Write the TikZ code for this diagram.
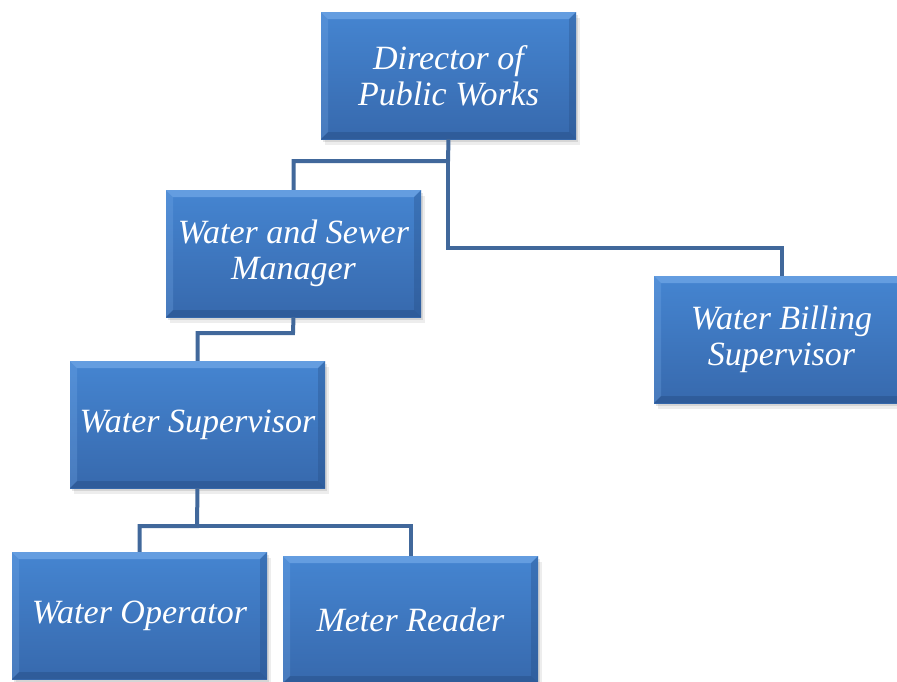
\documentclass[tikz,border=0pt]{standalone}
\usepackage{fontspec}
\setmainfont{Liberation Serif}
\usetikzlibrary{calc}
\definecolor{boxtop}{HTML}{4585D1}
\definecolor{boxbot}{HTML}{3769AD}
\definecolor{bevlight}{HTML}{7FB2EE}
\definecolor{bevdark}{HTML}{23497E}
\definecolor{linkcol}{HTML}{41689B}
\tikzset{
  orgbox/.style={
    rectangle, minimum width=255pt, minimum height=127pt, inner sep=0pt,
    text=white, align=center,
    font=\fontsize{34}{36}\selectfont\itshape,
    top color=boxtop, bottom color=boxbot,
    preaction={fill=black, fill opacity=0.07, transform canvas={shift={(4pt,-6pt)}}},
    preaction={fill=black, fill opacity=0.10, transform canvas={shift={(2pt,-3pt)}}},
    path picture={
      \coordinate (nw) at (path picture bounding box.north west);
      \coordinate (se) at (path picture bounding box.south east);
      \coordinate (ne) at (path picture bounding box.north east);
      \coordinate (sw) at (path picture bounding box.south west);
      \fill[bevlight, opacity=0.55] (nw) -- (ne) -- ($(ne)+(-7pt,-7pt)$) -- ($(nw)+(7pt,-7pt)$) -- cycle;
      \fill[bevlight, opacity=0.25] (nw) -- ($(nw)+(7pt,-7pt)$) -- ($(sw)+(7pt,7pt)$) -- (sw) -- cycle;
      \fill[bevdark, opacity=0.30] (ne) -- (se) -- ($(se)+(-7pt,7pt)$) -- ($(ne)+(-7pt,-7pt)$) -- cycle;
      \fill[bevdark, opacity=0.40] (sw) -- (se) -- ($(se)+(-7pt,7pt)$) -- ($(sw)+(7pt,7pt)$) -- cycle;
    }
  },
  link/.style={draw=linkcol, line width=4pt}
}
\begin{document}
\begin{tikzpicture}[x=1pt, y=-1pt]
  \useasboundingbox (0,0) rectangle (897,681);
  % boxes
  \node[orgbox] (dir) at (448.5,75.5) {Director of\\Public Works};
  \node[orgbox] (wsm) at (293.5,253.5) {Water and Sewer\\Manager};
  \node[orgbox] (wbs) at (781.5,339.5) {Water Billing\\Supervisor};
  \node[orgbox] (wsu) at (197.5,424.5) {Water Supervisor};
  \node[orgbox] (wop) at (139.5,615.5) {Water Operator};
  \node[orgbox] (mtr) at (410.5,619.5) {Meter Reader};
  % junction points of the connectors
  \coordinate (j1) at (448,161);
  \coordinate (j2) at (448,248);
  \coordinate (j3) at (293,333);
  \coordinate (j4) at (197,526);
  % connectors
  \draw[link] (dir.south) -- (j1) -| (wsm.north);
  \draw[link] (j1) -- (j2) -| (wbs.north);
  \draw[link] (wsm.south) -- (j3) -| (wsu.north);
  \draw[link] (wsu.south) -- (j4) -| (wop.north);
  \draw[link] (j4) -| (mtr.north);
\end{tikzpicture}
\end{document}
